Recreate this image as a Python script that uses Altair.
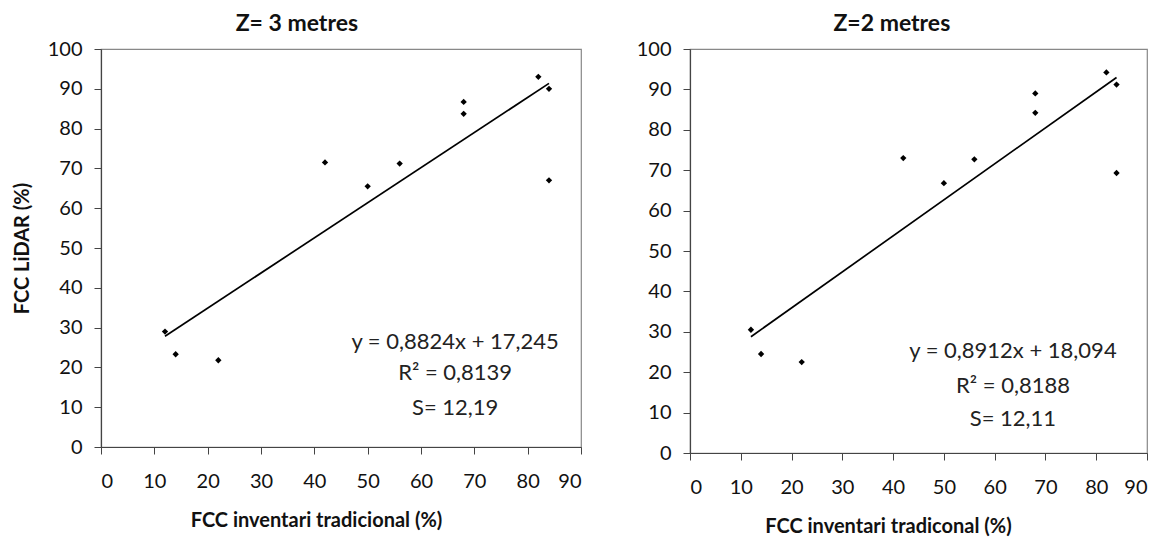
import altair as alt
import pandas as pd

# ---- data ----
x_inv = [12, 14, 22, 42, 50, 56, 68, 68, 82, 84, 84]
y_z3 = [29.0, 23.3, 21.8, 71.5, 65.5, 71.2, 86.7, 83.7, 93.0, 90.0, 67.0]
y_z2 = [30.5, 24.5, 22.5, 73.0, 66.8, 72.7, 89.0, 84.2, 94.2, 91.2, 69.3]
slopes = [0.8824, 0.8912]
intercepts = [17.245, 18.094]
panel_titles = ["Z= 3 metres", "Z=2 metres"]
x_titles = ["FCC inventari tradicional (%)", "FCC inventari tradiconal (%)"]
y_title = "FCC  LiDAR (%)"
eq_lines = [
    ["y = 0,8824x + 17,245", "R\u00b2 = 0,8139", "S= 12,19"],
    ["y = 0,8912x + 18,094", "R\u00b2 = 0,8188", "S= 12,11"],
]
eq_x = [66.4, 63.6]
eq_y = [[26.5, 18.6, 9.8], [25.3, 16.7, 8.4]]
x_ticks = list(range(0, 91, 10))
y_ticks = list(range(0, 101, 10))

FONT = "Lato"


def panel(i, ys, width, height, ytitle, xtitle_x, xtitle_pad):
    pts = pd.DataFrame({"x": x_inv, "y": ys})
    xmin, xmax = min(x_inv), max(x_inv)
    line_df = pd.DataFrame({
        "x": [xmin, xmax],
        "y": [slopes[i] * xmin + intercepts[i], slopes[i] * xmax + intercepts[i]],
    })
    txt = pd.DataFrame({"x": [eq_x[i]] * 3, "y": eq_y[i], "t": eq_lines[i]})

    xs = alt.Scale(domain=[0, 90], nice=False, zero=False)
    ysc = alt.Scale(domain=[0, 100], nice=False)
    xax = alt.Axis(values=x_ticks, title=x_titles[i], labelOverlap=False,
                   titleX=xtitle_x, titlePadding=xtitle_pad)
    if ytitle:
        yax = alt.Axis(values=y_ticks, title=ytitle, labelOverlap=False)
    else:
        yax = alt.Axis(values=y_ticks, title=None, labelOverlap=False)

    X = alt.X("x:Q", scale=xs, axis=xax)
    Y = alt.Y("y:Q", scale=ysc, axis=yax)

    p = alt.Chart(pts).mark_point(shape="diamond", filled=True, size=40, color="black", opacity=1).encode(
        x=X, y=Y
    )
    l = alt.Chart(line_df).mark_line(color="black", strokeWidth=1.7).encode(x=X, y=Y)
    t = alt.Chart(txt).mark_text(font=FONT, fontSize=22, color="#222", align="center", baseline="middle").encode(
        x=X, y=Y, text="t:N"
    )
    return alt.layer(p, l, t).properties(
        width=width, height=height,
        title=alt.TitleParams(panel_titles[i], frame="bounds", anchor="middle",
                              font=FONT, fontSize=23, fontWeight="bold", offset=3, color="#111"),
    )


left = panel(0, y_z3, 480, 398, y_title, 215, 19)
right = panel(1, y_z2, 457, 404, None, 198, 19)

chart = alt.hconcat(left, right, spacing=52).properties(
    padding={"left": 11, "top": 12, "right": 10, "bottom": 0}
).configure_view(stroke="#888", strokeWidth=1.2).configure_axis(
    grid=False, domainColor="#444", tickColor="#444", tickSize=7, domainWidth=1.2,
    labelFont=FONT, labelFontSize=20, labelColor="#111",
    titleFont=FONT, titleFontSize=20, titleFontWeight="bold", titleColor="#111",
    labelPadding=17,
).configure_axisY(labelPadding=12, titlePadding=15)

chart.save("out.html", embed_options={"renderer": "svg", "actions": False})
